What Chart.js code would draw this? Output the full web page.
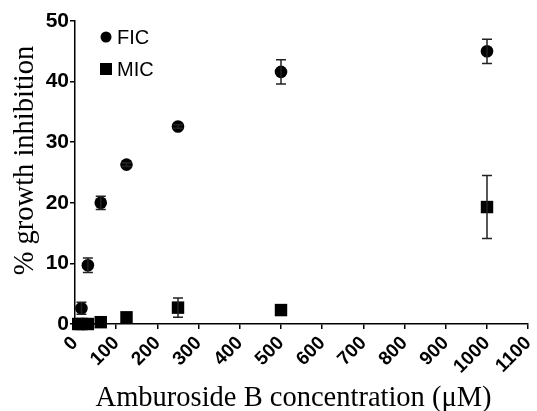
<!DOCTYPE html>
<html>
<head>
<meta charset="utf-8">
<script src="https://cdn.jsdelivr.net/npm/chart.js@4.4.0/dist/chart.umd.min.js"></script>
<style>
html,body{margin:0;padding:0;background:#fff;}
canvas{display:block;}
</style>
</head>
<body>
<canvas id="c" width="537" height="411"></canvas>
<script>
// Data (Amburoside B concentration in µM)
const ficConc = [15.6, 31.25, 62.5, 125, 250, 500, 1000];
const ficValues = [2.6, 9.7, 20.0, 26.3, 32.6, 41.6, 45.0];
const ficErrors = [1.0, 1.2, 1.1, 0.3, 0.3, 2.0, 2.0];

const micConc = [7.8, 15.6, 31.25, 62.5, 125, 250, 500, 1000];
const micValues = [0, 0, 0, 0.3, 1.1, 2.7, 2.3, 19.3];
const micErrors = [0, 0, 0, 0, 0, 1.6, 0, 5.2];

const seriesNames = ['FIC', 'MIC'];
const xTitle = 'Amburoside B concentration (\u03BCM)';
const yTitle = '% growth inhibition';

const toPoints = (xs, ys) => xs.map((x, i) => ({x: x, y: ys[i]}));

const errorBars = {
  id: 'errorBars',
  afterDatasetsDraw(chart) {
    const ctx = chart.ctx;
    const xs = chart.scales.x, ys = chart.scales.y;
    ctx.save();
    ctx.strokeStyle = '#222';
    ctx.lineWidth = 1.5;
    chart.data.datasets.forEach(ds => {
      ds.data.forEach((p, i) => {
        const e = ds.errors[i];
        if (!e) return;
        const px = xs.getPixelForValue(p.x);
        const yt = ys.getPixelForValue(p.y + e);
        const yb = ys.getPixelForValue(p.y - e);
        ctx.beginPath();
        ctx.moveTo(px, yt); ctx.lineTo(px, yb);
        ctx.moveTo(px - 5, yt); ctx.lineTo(px + 5, yt);
        ctx.moveTo(px - 5, yb); ctx.lineTo(px + 5, yb);
        ctx.stroke();
      });
    });
    ctx.restore();
  }
};

const insideLegend = {
  id: 'insideLegend',
  afterDraw(chart) {
    const ctx = chart.ctx;
    const a = chart.chartArea;
    ctx.save();
    ctx.font = '20px "Liberation Sans", Arial, sans-serif';
    ctx.textBaseline = 'middle';
    ctx.fillStyle = '#000';
    chart.data.datasets.forEach((ds, i) => {
      const cx = a.left + 31;
      const cy = a.top + 16 + i * 32;
      ctx.beginPath();
      if (ds.pointStyle === 'rect') {
        ctx.rect(cx - 6, cy - 6, 12, 12);
      } else {
        ctx.arc(cx, cy, 5.5, 0, Math.PI * 2);
      }
      ctx.fill();
      ctx.fillText(ds.label, a.left + 42, cy + 1);
    });
    ctx.restore();
  }
};

const axisTitles = {
  id: 'axisTitles',
  afterDraw(chart) {
    const ctx = chart.ctx;
    const a = chart.chartArea;
    ctx.save();
    ctx.fillStyle = '#000';
    ctx.font = '28.5px "Liberation Serif", "Times New Roman", serif';
    ctx.textAlign = 'center';
    ctx.textBaseline = 'alphabetic';
    ctx.fillText(xTitle, (a.left + a.right) / 2 - 8, chart.height - 5);
    ctx.translate(a.left - 42, (a.top + a.bottom) / 2 - 12);
    ctx.rotate(-Math.PI / 2);
    ctx.fillText(yTitle, 0, 0);
    ctx.restore();
  }
};

new Chart(document.getElementById('c'), {
  type: 'scatter',
  data: {
    datasets: [
      {
        label: seriesNames[0],
        data: toPoints(ficConc, ficValues),
        errors: ficErrors,
        pointStyle: 'circle',
        pointRadius: 6.3,
        backgroundColor: '#000',
        borderColor: '#000',
        borderWidth: 0,
        clip: false
      },
      {
        label: seriesNames[1],
        data: toPoints(micConc, micValues),
        errors: micErrors,
        pointStyle: 'rect',
        pointRadius: 8.8,
        backgroundColor: '#000',
        borderColor: '#000',
        borderWidth: 0,
        clip: false
      }
    ]
  },
  options: {
    responsive: false,
    animation: false,
    devicePixelRatio: 1,
    layout: {padding: {top: 21, right: 7, left: 0, bottom: 0}},
    plugins: {
      legend: {display: false},
      tooltip: {enabled: false}
    },
    scales: {
      x: {
        type: 'linear',
        min: 0, max: 1100,
        afterFit(s) { s.height = 87; s.paddingLeft = 0; s.paddingRight = 0; },
        ticks: {
          stepSize: 100,
          minRotation: 45, maxRotation: 45,
          color: '#000',
          padding: 3,
          callback: v => String(v),
          font: {family: '"Liberation Sans", Arial, sans-serif', size: 19, weight: 'bold'}
        },
        grid: {drawOnChartArea: false, drawTicks: true, tickLength: 5, color: '#000', lineWidth: 1.5},
        border: {display: true, color: '#000', width: 1.5},
        title: {display: false}
      },
      y: {
        type: 'linear',
        min: 0, max: 50,
        afterFit(s) { s.width = 75; },
        ticks: {
          stepSize: 10,
          color: '#000',
          padding: 1,
          font: {family: '"Liberation Sans", Arial, sans-serif', size: 21, weight: 'bold'}
        },
        grid: {drawOnChartArea: false, drawTicks: true, tickLength: 5, color: '#000', lineWidth: 1.5},
        border: {display: true, color: '#000', width: 1.5},
        title: {display: false}
      }
    }
  },
  plugins: [errorBars, insideLegend, axisTitles]
});
</script>
</body>
</html>
